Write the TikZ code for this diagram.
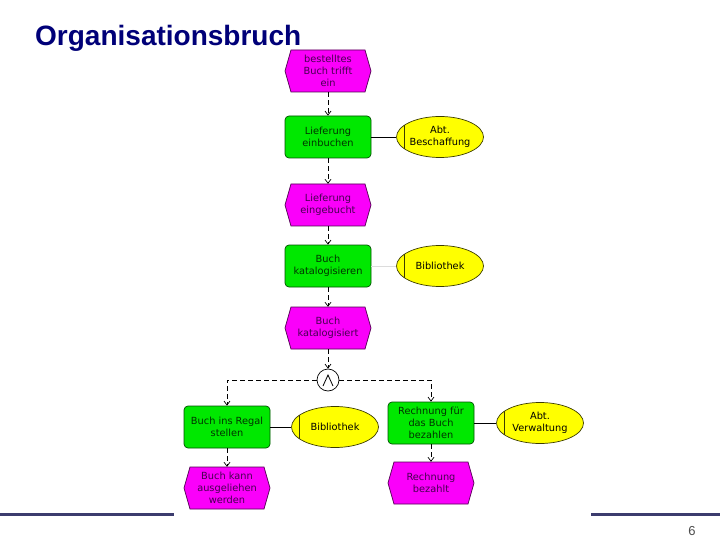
\documentclass[tikz,border=0pt]{standalone}
\usepackage{fontspec}
\setmainfont{DejaVu Sans}
\newfontfamily\titlefont{Liberation Sans}
\usetikzlibrary{arrows.meta,shapes.geometric}
\definecolor{evfill}{RGB}{250,0,250}
\definecolor{evborder}{RGB}{80,0,80}
\definecolor{evtext}{RGB}{70,0,80}
\definecolor{fnfill}{RGB}{0,232,0}
\definecolor{fnborder}{RGB}{0,80,0}
\definecolor{fntext}{RGB}{0,50,0}
\definecolor{orgfill}{RGB}{255,255,0}
\definecolor{orgborder}{RGB}{60,60,0}
\definecolor{titleblue}{RGB}{0,0,120}
\definecolor{rulecol}{RGB}{60,60,110}
\definecolor{lightcon}{RGB}{220,220,220}
\newcommand\evt[3]{%
  \begin{scope}[shift={#2}]
    \draw[evshape] (-43,0) -- (-37,-21) -- (37,-21) -- (43,0) -- (37,21) -- (-37,21) -- cycle;
    \node[evbox] (#1) at (0,0) {#3};
  \end{scope}}
\begin{document}
\begin{tikzpicture}[x=1pt,y=-1pt,
  nodefont/.style={font=\fontsize{9.8}{12}\selectfont},
  evshape/.style={draw=evborder, fill=evfill, line width=0.7pt},
  evbox/.style={nodefont, text=evtext, minimum width=86pt, minimum height=42pt, inner sep=0pt, align=center},
  fn/.style={nodefont, text=fntext, draw=fnborder, fill=fnfill, line width=0.7pt, rounded corners=4pt,
    minimum width=86pt, minimum height=42pt, inner sep=0pt, align=center},
  org/.style={nodefont, text=black, ellipse, draw=orgborder, fill=orgfill, line width=0.7pt,
    minimum width=87pt, minimum height=41pt, inner sep=0pt, align=center,
    path picture={\draw[orgborder, line width=0.7pt] ([xshift=8pt]path picture bounding box.north west) -- ([xshift=8pt]path picture bounding box.south west);}},
  flow/.style={black, line width=0.7pt, dash pattern=on 5pt off 3pt, -{Straight Barb[length=4pt,width=6pt]}},
  assoc/.style={black, line width=0.9pt},
  lightassoc/.style={lightcon, line width=1pt},
  andcon/.style={circle, draw=black, fill=white, line width=0.7pt, minimum size=22pt, inner sep=0pt},
  titlestyle/.style={font=\titlefont\bfseries\fontsize{28}{32}\selectfont, text=titleblue, inner sep=0pt, anchor=base west},
  pagestyle/.style={font=\titlefont\fontsize{13}{15}\selectfont, text=black!70, inner sep=0pt, anchor=base}
]
\useasboundingbox (0,0) rectangle (720,540);
\fill[white] (0,0) rectangle (720,540);

% footer rules
\draw[rulecol, line width=3pt] (0,514) -- (174,514);
\draw[rulecol, line width=3pt] (591,514) -- (720,514);
\node[pagestyle] (page) at (692,535) {6};

% title
\node[titlestyle] (title) at (35,46) {Organisationsbruch};

% nodes
\evt{e1}{(328,71)}{bestelltes\\Buch trifft\\ein}
\node[fn] (f1) at (328,137) {Lieferung\\einbuchen};
\node[org] (o1) at (440,137) {Abt.\\Beschaffung};
\evt{e2}{(328,205)}{Lieferung\\eingebucht}
\node[fn] (f2) at (328,266) {Buch\\katalogisieren};
\node[org] (o2) at (440,266) {Bibliothek};
\evt{e3}{(328,328)}{Buch\\katalogisiert}
\node[andcon] (and) at (328,380) {};
\draw[black, line width=0.8pt] ([shift={(-5,6)}]and.center) -- ([shift={(0,-5)}]and.center) -- ([shift={(5,6)}]and.center);
\node[fn] (f3) at (227,427) {Buch ins Regal\\stellen};
\node[org] (o3) at (335,427) {Bibliothek};
\node[fn] (f4) at (431,423) {Rechnung für\\das Buch\\bezahlen};
\node[org] (o4) at (540,423) {Abt.\\Verwaltung};
\evt{e4}{(227,488)}{Buch kann\\ausgeliehen\\werden}
\evt{e5}{(431,483)}{Rechnung\\bezahlt};

% control flow
\draw[flow] (e1.south) -- (f1.north);
\draw[flow] (f1.south) -- (e2.north);
\draw[flow] (e2.south) -- (f2.north);
\draw[flow] (f2.south) -- (e3.north);
\draw[flow] (e3.south) -- (and.north);
\draw[flow] (and.west) -| (f3.north);
\draw[flow] (and.east) -| (f4.north);
\draw[flow] (f3.south) -- (e4.north);
\draw[flow] (f4.south) -- (e5.north);

% org assignments
\draw[assoc] (f1.east) -- (o1.west);
\draw[lightassoc] (f2.east) -- (o2.west);
\draw[assoc] (f3.east) -- (o3.west);
\draw[assoc] (f4.east) -- (o4.west);
\end{tikzpicture}
\end{document}
